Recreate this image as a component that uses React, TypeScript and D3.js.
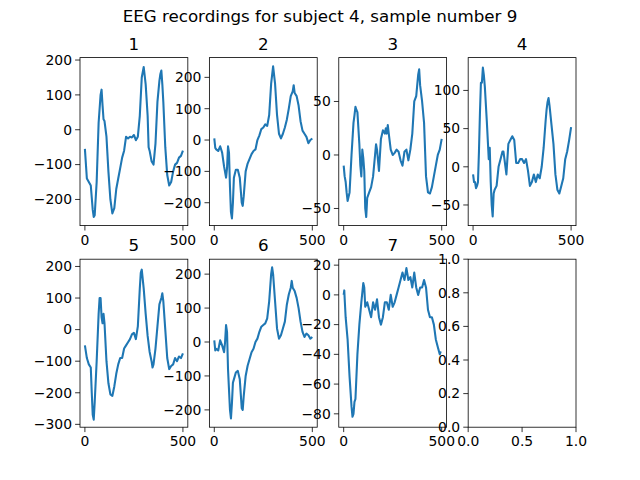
import React from 'react';
import * as d3 from 'd3';

type Pt = [number, number];

// readings from the picture: [sample index, value]
const ch1: Pt[] = [[0,-55],[10,-140],[20,-150],[30,-160],[40,-230],[45,-250],[50,-245],[60,-150],[70,20],[80,100],[85,115],[90,70],[95,30],[100,25],[110,-20],[120,-120],[130,-200],[140,-240],[150,-225],[160,-170],[170,-140],[180,-110],[190,-80],[200,-60],[210,-20],[220,-25],[230,-20],[240,-22],[250,-15],[260,-30],[270,-20],[280,40],[290,150],[300,180],[310,130],[320,40],[325,-50],[330,-60],[340,-90],[350,-100],[360,-40],[370,80],[380,140],[385,160],[390,170],[395,130],[400,80],[410,-50],[420,-130],[430,-160],[440,-150],[450,-120],[460,-100],[470,-95],[480,-80],[490,-75],[500,-60]];
const ch2: Pt[] = [[0,5],[5,-25],[10,-30],[20,-35],[30,-20],[40,-40],[50,-85],[60,-120],[65,-90],[70,-20],[75,-40],[80,-150],[85,-230],[90,-250],[95,-200],[100,-120],[110,-95],[120,-95],[130,-120],[140,-200],[145,-210],[150,-180],[160,-100],[170,-75],[180,-60],[190,-45],[200,-35],[210,-30],[220,0],[230,15],[240,35],[250,40],[260,50],[270,45],[280,80],[290,180],[300,235],[310,180],[320,80],[330,20],[340,5],[350,20],[360,40],[370,65],[380,100],[390,140],[400,155],[405,175],[410,150],[420,140],[430,110],[440,60],[450,30],[460,20],[470,10],[480,-10],[490,0],[500,5]];
const ch3: Pt[] = [[0,-10],[5,-20],[10,-25],[15,-35],[20,-43],[30,-35],[40,0],[50,30],[55,37],[60,45],[65,42],[70,40],[80,10],[85,-10],[90,-20],[95,5],[100,-3],[105,-15],[110,-50],[115,-58],[120,-40],[130,-35],[140,-30],[150,-20],[160,0],[165,10],[170,5],[180,-15],[190,15],[200,23],[210,20],[215,25],[220,20],[225,28],[230,20],[240,5],[250,0],[260,2],[270,5],[280,3],[290,-5],[300,-10],[310,3],[320,5],[330,-5],[340,5],[350,20],[360,50],[370,55],[375,65],[380,75],[385,80],[390,65],[400,50],[410,30],[420,-20],[430,-35],[440,-36],[450,-30],[460,-20],[470,-10],[480,0],[490,5],[500,15]];
const ch4: Pt[] = [[0,-10],[5,-20],[10,-20],[15,-28],[20,-25],[25,-20],[30,20],[35,70],[40,110],[45,110],[50,130],[55,120],[60,105],[70,60],[80,10],[85,25],[90,-20],[95,-50],[100,-65],[105,-35],[110,-30],[120,-25],[130,0],[140,10],[150,20],[155,20],[160,10],[170,-10],[180,30],[190,35],[200,40],[210,35],[215,20],[220,5],[230,5],[240,10],[250,10],[260,5],[270,10],[280,-5],[290,-25],[300,-20],[310,-10],[320,-20],[330,-10],[340,-15],[350,0],[360,25],[370,60],[375,75],[380,85],[385,90],[390,80],[400,55],[410,30],[420,-10],[430,-30],[440,-35],[450,-25],[460,-15],[470,10],[480,20],[490,35],[500,52]];
const ch5: Pt[] = [[0,-50],[10,-90],[20,-110],[30,-120],[35,-200],[40,-270],[45,-285],[50,-230],[60,-100],[70,50],[75,100],[80,100],[85,40],[90,20],[95,50],[100,20],[110,-100],[120,-170],[130,-205],[140,-210],[150,-180],[160,-140],[170,-110],[180,-90],[190,-90],[200,-60],[210,-50],[220,-40],[230,-30],[240,-15],[250,-10],[260,-30],[270,10],[280,130],[285,180],[290,190],[300,130],[310,50],[320,-20],[330,-70],[340,-100],[345,-120],[350,-110],[360,-60],[370,10],[380,80],[390,100],[395,115],[400,90],[410,0],[420,-90],[430,-125],[440,-115],[450,-110],[460,-90],[470,-100],[480,-85],[490,-90],[500,-75]];
const ch6: Pt[] = [[0,5],[5,-25],[10,-20],[20,-25],[30,5],[40,-10],[50,-30],[55,0],[60,50],[65,30],[70,-80],[80,-200],[85,-225],[90,-180],[95,-120],[100,-110],[110,-90],[120,-85],[130,-110],[140,-195],[145,-200],[150,-160],[160,-100],[170,-70],[180,-50],[190,-30],[200,-20],[210,0],[220,10],[230,30],[240,45],[250,50],[260,55],[270,70],[280,120],[290,200],[295,220],[300,200],[310,120],[320,40],[330,10],[340,20],[350,40],[360,60],[370,110],[380,140],[390,160],[395,180],[400,160],[410,150],[420,130],[430,100],[440,60],[450,30],[460,15],[470,25],[480,20],[490,10],[500,15]];
const ch7: Pt[] = [[0,0],[3,3],[6,-5],[10,-15],[20,-30],[30,-55],[40,-75],[45,-82],[50,-80],[55,-72],[60,-70],[70,-40],[80,-20],[90,-5],[100,8],[105,5],[110,-8],[120,-5],[130,-10],[140,-15],[150,-5],[160,-10],[170,-3],[180,-15],[190,-20],[200,-15],[210,-5],[220,-5],[230,-10],[240,0],[250,-8],[260,-5],[270,0],[280,5],[290,10],[300,15],[310,10],[320,18],[330,10],[340,12],[350,5],[360,15],[370,5],[380,0],[390,5],[400,5],[410,10],[420,5],[430,-10],[440,-15],[450,-15],[460,-20],[470,-30],[480,-35],[490,-40],[495,-38]];

const channels = [ch1, ch2, ch3, ch4, ch5, ch6, ch7];
const titles = ['1', '2', '3', '4', '5', '6', '7'];
const yLimits: [number, number][] = [[-275, 207], [-273, 263], [-66, 91], [-77, 143], [-309, 223], [-251, 244], [-89, 24]];
const yTicks = [
  [-200, -100, 0, 100, 200],
  [-200, -100, 0, 100, 200],
  [-50, 0, 50],
  [-50, 0, 50, 100],
  [-300, -200, -100, 0, 100, 200],
  [-200, -100, 0, 100, 200],
  [-80, -60, -40, -20, 0, 20],
];
const xTicks = [0, 500];
const emptyTicks = [0, 0.2, 0.4, 0.6, 0.8, 1.0];
const emptyXTicks = [0, 0.5, 1.0];

const W = 640, H = 480;
const left = 80, right = 576, top = 57.6, bottom = 427.2;
const axW = (right - left) / 4.6, gapW = axW * 0.2;
const axH = (bottom - top) / 2.2, gapH = axH * 0.2;
const color = '#1f77b4';
const font = 'DejaVu Sans, sans-serif';
const fmt = (v: number) => String(v).replace('-', '\u2212');

const Axis: React.FC<{ x0: number; y0: number; xs: d3.ScaleLinear<number, number>; ys: d3.ScaleLinear<number, number>; xt: number[]; yt: number[]; f: (v: number) => string; title?: string; children?: React.ReactNode }> = ({ x0, y0, xs, ys, xt, yt, f, title, children }) => (
  <g transform={`translate(${x0},${y0})`}>
    {children}
    <rect x={0} y={0} width={axW} height={axH} fill="none" stroke="#000" strokeWidth={0.8} />
    {xt.map(t => (
      <g key={'x' + t} transform={`translate(${xs(t)},${axH})`}>
        <line y2={4.9} stroke="#000" strokeWidth={0.8} />
        <text y={19} textAnchor="middle" fontSize={13.9} fontFamily={font}>{f(t)}</text>
      </g>
    ))}
    {yt.map(t => (
      <g key={'y' + t} transform={`translate(0,${ys(t)})`}>
        <line x2={-4.9} stroke="#000" strokeWidth={0.8} />
        <text x={-8} dy="0.35em" textAnchor="end" fontSize={13.9} fontFamily={font}>{f(t)}</text>
      </g>
    ))}
    {title && <text x={axW / 2} y={-8} textAnchor="middle" fontSize={16.7} fontFamily={font}>{title}</text>}
  </g>
);

export default function App() {
  const xs = d3.scaleLinear().domain([-25, 525]).range([0, axW]);
  return (
    <svg width={W} height={H} style={{ position: 'absolute', left: 0, top: 0, background: '#fff' }}>
      <rect width={W} height={H} fill="#fff" />
      <text x={W / 2} y={22} textAnchor="middle" fontSize={16.7} fontFamily={font}>EEG recordings for subject 4, sample number 9</text>
      {channels.map((data, i) => {
        const col = i % 4, row = Math.floor(i / 4);
        const x0 = left + col * (axW + gapW), y0 = top + row * (axH + gapH);
        const ys = d3.scaleLinear().domain(yLimits[i]).range([axH, 0]);
        const line = d3.line<Pt>().x(d => xs(d[0])).y(d => ys(d[1]));
        return (
          <Axis key={i} x0={x0} y0={y0} xs={xs} ys={ys} xt={xTicks} yt={yTicks[i]} f={fmt} title={titles[i]}>
            <path d={line(data) || ''} fill="none" stroke={color} strokeWidth={2.08} strokeLinejoin="round" />
          </Axis>
        );
      })}
      {(() => {
        const ex = d3.scaleLinear().domain([0, 1]).range([0, axW]);
        const ey = d3.scaleLinear().domain([0, 1]).range([axH, 0]);
        return <Axis x0={left + 3 * (axW + gapW)} y0={top + axH + gapH} xs={ex} ys={ey} xt={emptyXTicks} yt={emptyTicks} f={v => v.toFixed(1)} />;
      })()}
    </svg>
  );
}
